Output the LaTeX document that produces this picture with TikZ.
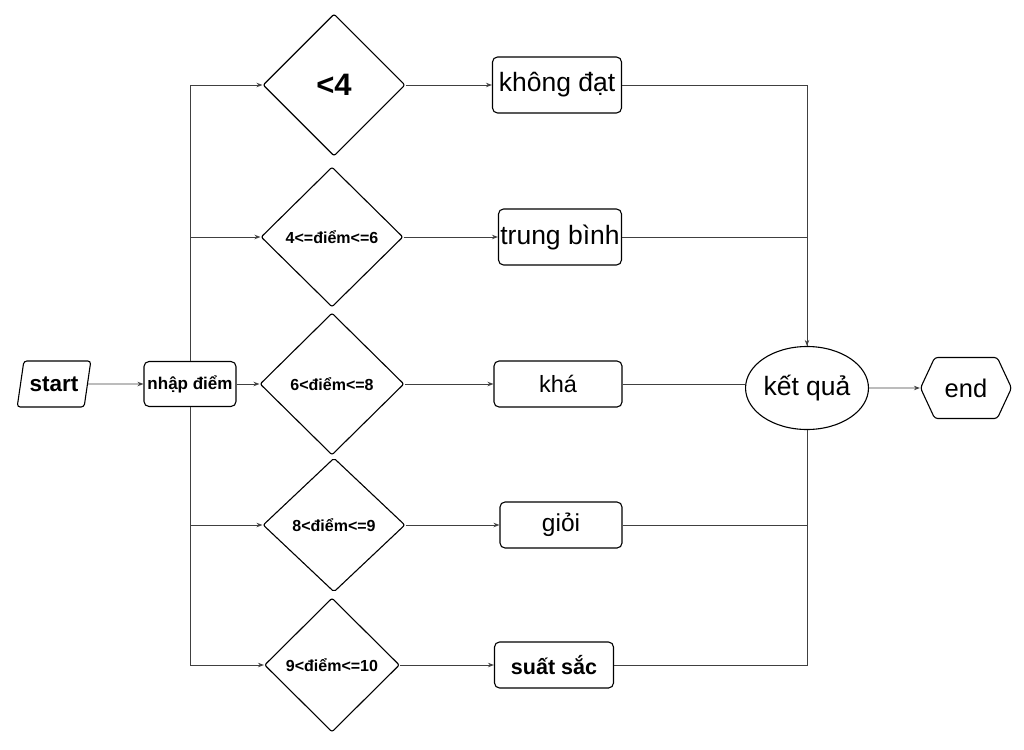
\documentclass[tikz,border=0pt]{standalone}
\usepackage{fontspec}
\setmainfont{Liberation Sans}
\usetikzlibrary{shapes.geometric,shapes.symbols,arrows.meta}

\newcommand{\fs}[1]{\fontsize{#1}{#1}\selectfont}

\begin{document}
\begin{tikzpicture}[x=1pt,y=-1pt,
		box/.style={draw, line width=1.1pt, inner sep=0pt},
		decision/.style={box, diamond, rounded corners=2pt, font=\bfseries\fs{16}},
		grade/.style={box, rectangle, rounded corners=5pt, minimum height=46pt},
		flow/.style={draw=black!75, line width=0.9pt, -{Stealth[length=6pt,width=4.5pt]}},
		link/.style={draw=black!75, line width=0.9pt}]
	\useasboundingbox (0,0) rectangle (1024,749);
	% start and input
	\node[box, trapezium, trapezium left angle=70, trapezium right angle=110, trapezium stretches=true,
		rounded corners=3pt, minimum width=74pt, minimum height=46pt, font=\bfseries\fs{22.5}] (start) at (54,384) {start};
	\node[box, rectangle, rounded corners=5pt, minimum width=92pt, minimum height=45pt, font=\bfseries\fs{17}] (nhap) at (190,384) {nhập điểm};
	% conditions
	\node[decision, minimum width=142pt, minimum height=142pt, font=\bfseries\fs{31}] (d1) at (334,85) {<4};
	\node[decision, minimum width=142pt, minimum height=140pt] (d2) at (332,237) {4<=điểm<=6};
	\node[decision, minimum width=144pt, minimum height=142pt] (d3) at (332,384) {6<điểm<=8};
	\node[decision, minimum width=142pt, minimum height=134pt] (d4) at (334,525) {8<điểm<=9};
	\node[decision, minimum width=135pt, minimum height=134pt] (d5) at (332,665) {9<điểm<=10};
	% grades
	\node[grade, minimum width=129pt, minimum height=56pt, font=\fs{26.5}] (b1) at (557,85) {không đạt};
	\node[grade, minimum width=123pt, minimum height=56pt, font=\fs{26.5}] (b2) at (560,237) {trung bình};
	\node[grade, minimum width=128pt, font=\fs{23.5}] (b3) at (558,384) {khá};
	\node[grade, minimum width=122pt, font=\fs{24.5}] (b4) at (561,525) {giỏi};
	\node[grade, minimum width=119pt, font=\bfseries\fs{21.5}] (b5) at (554,665) {suất sắc};
	% result and end
	\node[box, ellipse, minimum width=97pt, minimum height=83pt, font=\fs{26.5}] (kq) at (807,388) {kết quả};
	\node[box, signal, signal to=west and east, signal pointer angle=130, rounded corners=3pt,
		minimum width=91pt, minimum height=61pt, font=\fs{25.5}] (end) at (966,388) {end};

	\draw[flow] (start) -- (nhap);
	\draw[flow] (nhap) -- (d3);
	\draw[flow] (nhap.north) |- (d1.west);
	\draw[flow] (nhap.north) |- (d2.west);
	\draw[flow] (nhap.south) |- (d4.west);
	\draw[flow] (nhap.south) |- (d5.west);
	\draw[flow] (d1) -- (b1);
	\draw[flow] (d2) -- (b2);
	\draw[flow] (d3) -- (b3);
	\draw[flow] (d4) -- (b4);
	\draw[flow] (d5) -- (b5);
	\draw[flow] (b1.east) -| (kq.north);
	\draw[link] (b2.east) -| (kq.north);
	\draw[link] (b3.east) -- (b3.east -| kq.west);
	\draw[link] (b4.east) -| (kq.south);
	\draw[link] (b5.east) -| (kq.south);
	\draw[flow] (kq) -- (end);
\end{tikzpicture}
\end{document}
